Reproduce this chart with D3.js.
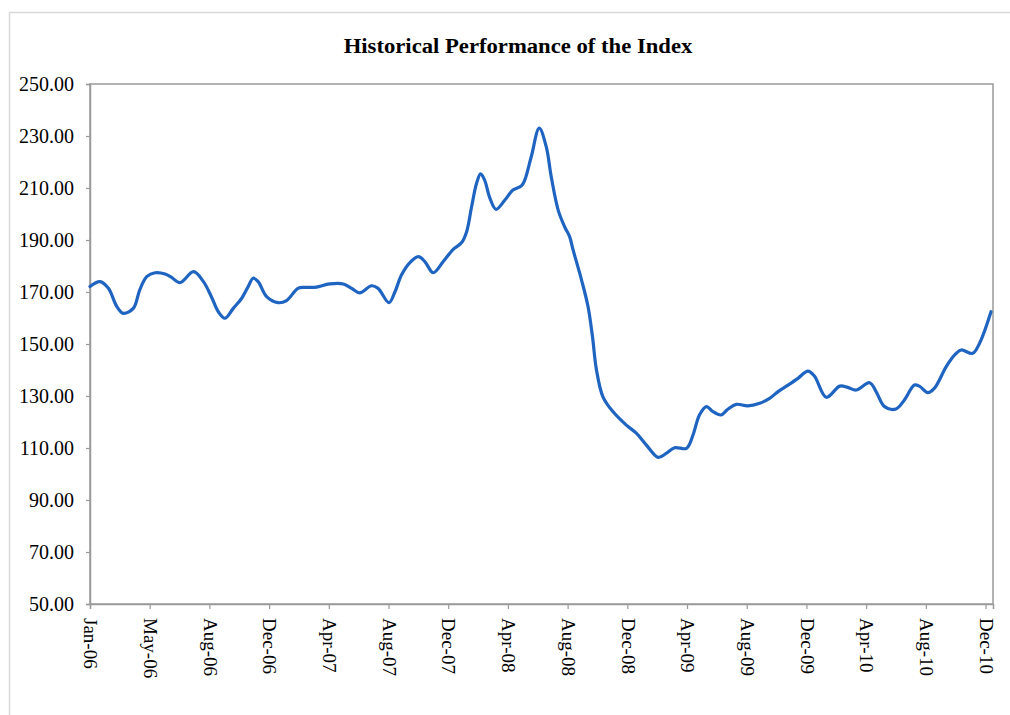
<!DOCTYPE html>
<html>
<head>
<meta charset="utf-8">
<script src="https://cdn.jsdelivr.net/npm/d3@7"></script>
<style>
  html, body { margin: 0; padding: 0; background: #fff; }
  svg { display: block; }
  text { font-family: "Liberation Serif", "Times New Roman", serif; fill: #000; }
</style>
</head>
<body>
<svg id="chart" width="1010" height="715"></svg>
<script>
const title = "Historical Performance of the Index";

const dates = [
  "2006-01-01","2006-01-21","2006-02-07","2006-02-24","2006-03-09","2006-03-29","2006-04-11","2006-04-25",
  "2006-05-12","2006-06-01","2006-06-14","2006-07-01","2006-07-28","2006-08-17","2006-09-02","2006-09-16",
  "2006-09-29","2006-10-16","2006-11-02","2006-11-15","2006-11-25","2006-12-05","2006-12-22","2007-01-14",
  "2007-01-31","2007-02-23","2007-03-09","2007-03-29","2007-04-28","2007-05-25","2007-06-11","2007-06-27",
  "2007-07-21","2007-08-03","2007-08-25","2007-09-06","2007-09-19","2007-10-06","2007-10-23","2007-11-05",
  "2007-11-22","2007-12-12","2008-01-01","2008-01-18","2008-01-28","2008-02-07","2008-02-17","2008-02-25",
  "2008-03-04","2008-03-15","2008-03-27","2008-04-14","2008-04-30","2008-05-17","2008-05-24","2008-06-06",
  "2008-06-22","2008-07-06","2008-07-16","2008-07-30","2008-08-12","2008-08-22","2008-08-29","2008-09-15",
  "2008-09-28","2008-10-07","2008-10-15","2008-10-28","2008-11-17","2008-12-14","2009-01-03","2009-01-23",
  "2009-02-16","2009-03-04","2009-03-21","2009-04-14","2009-04-27","2009-05-10","2009-05-24","2009-06-06",
  "2009-06-22","2009-07-06","2009-07-23","2009-08-15","2009-09-08","2009-09-28","2009-10-15","2009-11-04",
  "2009-11-24","2009-12-14","2009-12-27","2010-01-20","2010-02-16","2010-03-04","2010-03-21","2010-04-17",
  "2010-04-30","2010-05-17","2010-06-09","2010-06-26","2010-07-16","2010-07-26","2010-08-12","2010-08-25",
  "2010-09-18","2010-10-05","2010-10-18","2010-11-10","2010-11-24","2010-12-17"
];

const values = [
  172.1,174.0,171.4,164.4,161.8,163.7,170.8,175.9,
  177.4,176.9,175.6,173.6,177.8,174.0,168.2,162.4,
  159.9,163.7,167.6,172.1,175.3,174.0,168.2,165.9,
  166.7,171.4,171.8,171.8,173.1,173.1,171.4,169.7,
  172.4,171.4,165.9,170.1,176.5,181.3,183.6,181.7,
  177.4,181.7,186.4,189.0,193.2,202.8,211.8,215.4,
  213.1,206.0,201.8,205.4,209.2,210.8,213.1,222.1,
  233.0,225.9,214.4,201.5,195.1,191.3,186.2,174.6,
  164.4,152.8,140.0,129.7,124.0,118.8,115.7,111.2,
  106.4,107.9,110.1,109.9,115.0,122.7,125.9,124.0,
  122.7,124.9,126.8,126.2,127.2,129.1,131.7,134.2,
  136.8,139.6,137.7,129.5,133.8,133.3,132.3,135.1,
  131.7,125.9,125.0,128.5,134.2,133.8,131.3,132.9,
  141.3,145.8,147.7,146.4,150.3,162.4
];

const xTickLabels = ["Jan-06","May-06","Aug-06","Dec-06","Apr-07","Aug-07","Dec-07","Apr-08",
                     "Aug-08","Dec-08","Apr-09","Aug-09","Dec-09","Apr-10","Aug-10","Dec-10"];
const yTicks = [50,70,90,110,130,150,170,190,210,230,250];

(function () {
const parse = d3.utcParse("%Y-%m-%d");
const data = dates.map((d, i) => ({ date: parse(d), value: values[i] }));

const start = parse("2006-01-01");
const end = parse("2010-12-21");
const xTickDates = xTickLabels.map((_, i) => d3.utcDay.offset(start, 120 * i));

const svg = d3.select("#chart");
const mL = 90, mR = 993, mT = 84, mB = 604;

// outer frame
svg.append("rect")
  .attr("x", 9.5).attr("y", 12.5).attr("width", 1010).attr("height", 720)
  .attr("fill", "none").attr("stroke", "#d9d9d9").attr("stroke-width", 1.5);

const x = d3.scaleUtc().domain([start, end]).range([mL, mR]);
const y = d3.scaleLinear().domain([50, 250]).range([mB, mT]);

// plot border
svg.append("rect")
  .attr("x", mL).attr("y", mT).attr("width", mR - mL).attr("height", mB - mT)
  .attr("fill", "none").attr("stroke", "#9a9a9a").attr("stroke-width", 1.5);

// y axis
const yAxis = svg.append("g")
  .attr("transform", `translate(${mL},0)`)
  .call(d3.axisLeft(y).tickValues(yTicks).tickFormat(d3.format(".2f")).tickSize(4).tickPadding(12));
yAxis.select(".domain").attr("stroke", "#9a9a9a").attr("stroke-width", 1.5);
yAxis.selectAll(".tick line").attr("stroke", "#9a9a9a").attr("stroke-width", 1.2);
yAxis.selectAll(".tick text")
  .style("font-family", '"Liberation Serif", serif').style("font-size", "20px").attr("fill", "#000");

// x axis
const xAxis = svg.append("g")
  .attr("transform", `translate(0,${mB})`)
  .call(d3.axisBottom(x).tickValues(xTickDates).tickFormat((d, i) => xTickLabels[i]).tickSize(5));
xAxis.select(".domain").attr("stroke", "#9a9a9a").attr("stroke-width", 1.5);
xAxis.selectAll(".tick line").attr("stroke", "#9a9a9a").attr("stroke-width", 1.2);
xAxis.selectAll(".tick text")
  .style("font-family", '"Liberation Serif", serif').style("font-size", "19px").attr("fill", "#000")
  .attr("text-anchor", "start")
  .attr("transform", "rotate(90)")
  .attr("x", 14).attr("y", 0).attr("dy", "0.33em");

// line
const line = d3.line()
  .x(d => x(d.date)).y(d => y(d.value))
  .curve(d3.curveCatmullRom.alpha(0.5));
svg.append("path").datum(data)
  .attr("d", line)
  .attr("fill", "none").attr("stroke", "#1e64c0").attr("stroke-width", 3.2)
  .attr("stroke-linejoin", "round").attr("stroke-linecap", "round");

// title
svg.append("text")
  .attr("transform", "translate(518,53) scale(1.08,1)")
  .attr("text-anchor", "middle")
  .style("font-weight", "bold").style("font-size", "21px")
  .text(title);
})();
</script>
</body>
</html>
